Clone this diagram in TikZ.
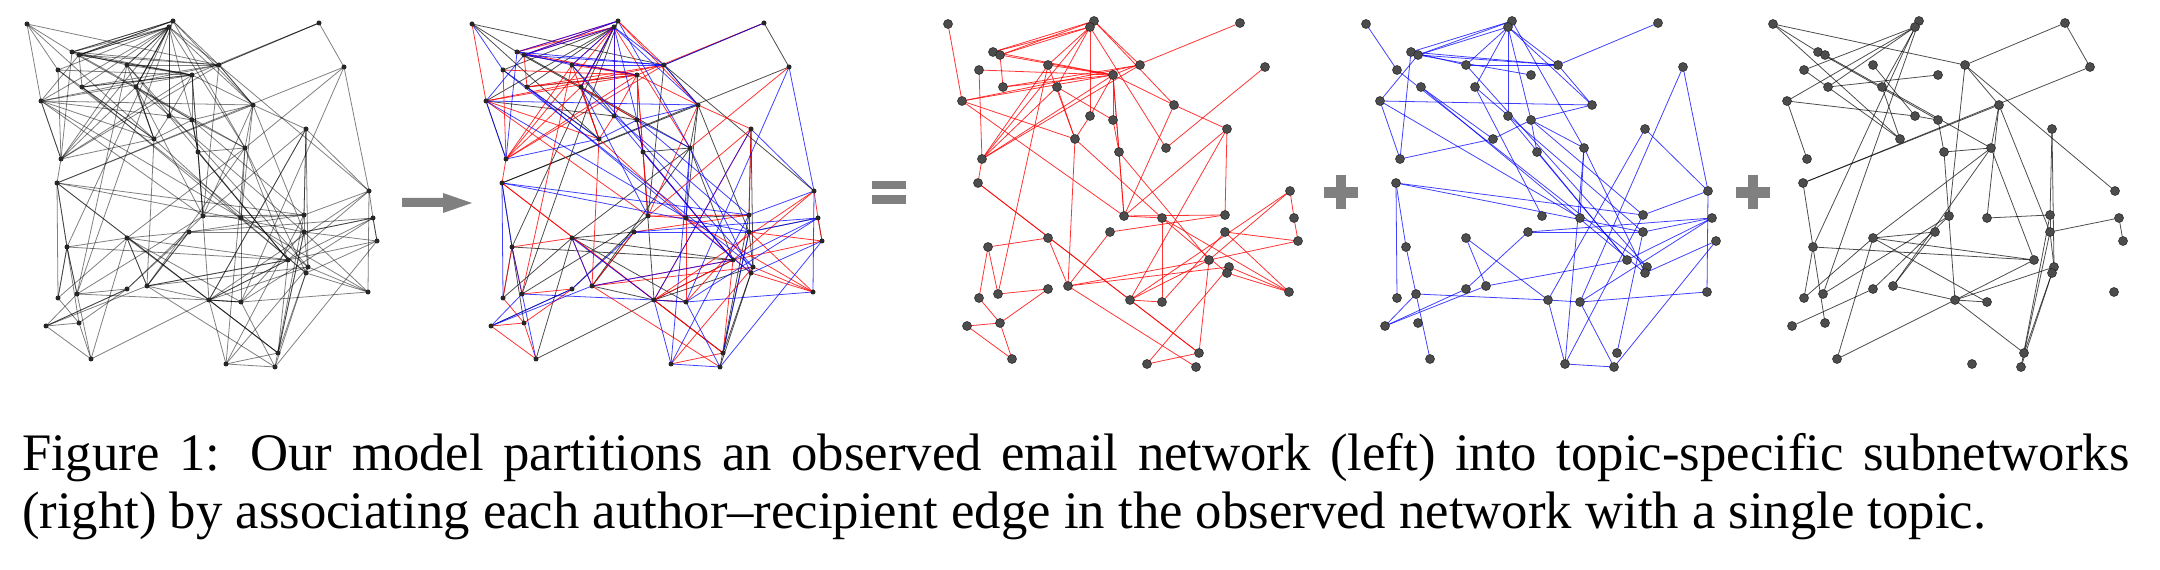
\documentclass[tikz,border=0pt]{standalone}
\usepackage{fontspec}
\setmainfont{Liberation Serif}
\begin{document}
\begin{tikzpicture}[x=0.02cm,y=-0.02cm,inner sep=0pt,outer sep=0pt,
smalldot/.style={circle,fill=black!85,minimum size=0.1cm},
bigdot/.style={circle,fill=black!70,draw=black!85,line width=0.3pt,minimum size=0.18cm},
grayedge/.style={black,opacity=0.5,line width=0.45pt},
rededge/.style={red,opacity=0.8,line width=0.45pt},
blueedge/.style={blue,opacity=0.75,line width=0.45pt},
blackedge/.style={black,opacity=0.7,line width=0.45pt},
opsign/.style={fill=black!50}]
\useasboundingbox (0,0) rectangle (2160,570);

\def\vertices{1/27/24,2/173/21,3/169/27,4/319/23,5/72/52,6/79/55,7/58/70,8/127/65,
9/219/65,10/192/75,11/344/67,12/82/87,13/136/87,14/41/101,15/253/105,16/169/116,
17/192/120,18/306/129,19/154/139,20/245/148,21/198/152,22/61/159,23/57/183,
24/369/191,25/203/216,26/241/218,27/304/215,28/373/218,29/189/232,30/304/232,
31/377/241,32/127/238,33/67/247,34/288/260,35/308/267,36/306/273,37/368/292,
38/127/289,39/147/286,40/77/294,41/58/298,42/209/300,43/241/302,44/79/323,
45/46/326,46/91/359,47/278/353,48/226/364,49/275/367}
\def\topicred{1/14,3/5,2/6,3/6,2/5,6/12,7/10,7/22,8/10,6/10,5/10,14/10,14/9,12/9,
14/19,14/25,22/8,22/13,22/10,22/9,22/3,23/22,23/47,23/42,13/19,13/17,8/19,16/10,
16/19,3/16,3/8,3/13,10/17,10/21,10/25,10/15,4/10,11/20,15/18,15/25,2/9,3/20,18/25,
18/27,18/42,21/25,21/34,19/39,19/26,25/26,26/36,29/27,33/32,33/40,32/39,39/34,
39/35,40/38,39/29,24/28,24/34,28/31,30/31,30/37,36/37,35/37,31/34,42/43,42/34,
42/47,43/26,43/30,47/34,47/48,48/35,49/39,45/44,45/46,44/46,44/41,44/38,41/33,
40/8,25/27,26/37,24/42,17/21,2/15,12/10}
\def\topicblue{1/7,5/2,6/3,6/2,5/9,6/9,6/10,5/8,14/6,14/22,14/15,22/5,23/41,23/33,
33/46,45/40,45/38,3/8,3/13,3/16,3/17,3/9,3/15,2/20,4/9,8/9,9/15,11/24,11/43,18/24,
18/42,15/17,17/21,17/20,17/27,19/17,19/22,21/34,20/26,20/36,20/48,13/25,13/30,8/35,
24/27,24/37,28/30,28/34,28/43,28/29,31/36,31/49,29/30,29/38,32/39,32/42,39/34,
42/43,42/48,43/37,43/49,48/49,48/27,47/30,12/19,16/34,12/36,23/27,23/30,40/42,
45/39,7/35,14/26}
\def\topicblack{1/5,1/9,1/19,3/7,3/14,3/12,2/13,3/33,4/9,4/11,11/23,9/24,9/15,9/25,
10/12,13/19,14/16,14/22,7/19,5/17,6/20,15/23,15/20,15/26,15/30,18/27,18/35,20/21,
20/32,20/39,20/34,21/42,17/21,23/33,33/41,33/44,33/34,32/29,32/34,32/43,32/41,
26/27,27/30,30/28,28/31,30/35,30/47,34/42,35/42,35/49,35/47,42/43,42/46,42/47,
42/39,38/25,39/29,45/38,40/25,46/32,49/27,16/17,8/16,2/40}

% same layout in the five panels
\foreach \p/\dx in {obs/0,mix/445,red/921,blue/1339,black/1746}
  \foreach \n/\x/\y in \vertices
    \coordinate (\p\n) at (\x+\dx,\y);

% observed network
\foreach \a/\b in \topicred {\draw[grayedge] (obs\a) -- (obs\b);}
\foreach \a/\b in \topicblue {\draw[grayedge] (obs\a) -- (obs\b);}
\foreach \a/\b in \topicblack {\draw[grayedge] (obs\a) -- (obs\b);}

% edges coloured by topic
\foreach \a/\b in \topicblack {\draw[blackedge] (mix\a) -- (mix\b);}
\foreach \a/\b in \topicred {\draw[rededge] (mix\a) -- (mix\b);}
\foreach \a/\b in \topicblue {\draw[blueedge] (mix\a) -- (mix\b);}

% subnetworks
\foreach \a/\b in \topicred {\draw[rededge] (red\a) -- (red\b);}
\foreach \a/\b in \topicblue {\draw[blueedge] (blue\a) -- (blue\b);}
\foreach \a/\b in \topicblack {\draw[blackedge] (black\a) -- (black\b);}

\foreach \n/\x/\y in \vertices {
  \node[smalldot] at (obs\n) {};
  \node[smalldot] at (mix\n) {};
  \node[bigdot] at (red\n) {};
  \node[bigdot] at (blue\n) {};
  \node[bigdot] at (black\n) {};
}

% arrow, = and +
\fill[opsign] (402,198) -- (443,198) -- (443,193) -- (472,203) -- (443,213) -- (443,207) -- (402,207) -- cycle;
\fill[opsign] (872,181) rectangle (906,189);
\fill[opsign] (872,195) rectangle (906,204);
\foreach \cx in {1341,1753} {
  \fill[opsign] (\cx-17,187) rectangle (\cx+17,198);
  \fill[opsign] (\cx-5,175) rectangle (\cx+5,209);
}

\node[anchor=base west,font=\fontsize{30}{33}\selectfont] (capA) at (22,471)
  {\makebox[42.16cm][s]{Figure 1: Our model partitions an observed email network (left) into topic-specific subnetworks}};
\node[anchor=base west,font=\fontsize{30}{33}\selectfont] (capB) at (22,529)
  {(right) by associating each author--recipient edge in the observed network with a single topic.};
\end{tikzpicture}
\end{document}
